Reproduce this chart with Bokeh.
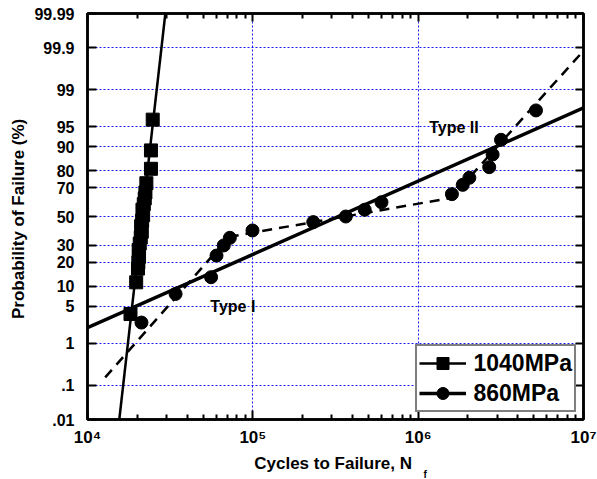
from statistics import NormalDist
from bokeh.plotting import figure
from bokeh.models import (LogAxis, LinearAxis, FixedTicker, Legend, LegendItem, Label,
                          Range1d, CustomJSTickFormatter, Title)
from bokeh.embed import file_html
from bokeh.resources import INLINE

# ---------------- data ----------------
n1040 = [18200, 19700, 20200, 20300, 20500, 20400, 20700, 21000, 21300, 21100,
         21400, 21700, 21500, 21900, 22200, 22400, 22700, 24200, 24200, 24800]
p1040 = [3.7, 11.4, 17, 20, 23, 27, 31, 35, 39, 43,
         47, 51, 55, 59, 63, 67, 72.9, 80.9, 88.7, 96.2]

n860 = [21200, 34100, 55900, 60300, 66700, 72600, 99500, 232000, 365000, 475000,
        600000, 1600000, 1860000, 2040000, 2690000, 2820000, 3170000, 5160000]
p860 = [2.6, 7.8, 13.3, 23.7, 29.8, 34.8, 39.9, 45.9, 50.0, 54.9,
        60.3, 65.9, 71.9, 76.1, 81.7, 87.2, 92.0, 97.4]

fit1040_n = [15570, 29570]
fit1040_p = [0.01, 99.99]
fit860_n = [1e4, 1e7]
fit860_p = [2.08, 97.67]
bilin860_n = [12800, 72000, 1580000, 10000000]
bilin860_p = [0.16, 35.5, 63.3, 99.88]

y_tick_pct = [0.01, 0.1, 1, 5, 10, 20, 30, 50, 70, 80, 90, 95, 99, 99.9, 99.99]
y_tick_labels = [".01", ".1", "1", "5", "10", "20", "30", "50", "70", "80", "90", "95", "99", "99.9", "99.99"]
x_tick_vals = [1e4, 1e5, 1e6, 1e7]
x_tick_labels = ["10\u2074", "10\u2075", "10\u2076", "10\u2077"]

nd = NormalDist()
def z(ps):
    return [nd.inv_cdf(v / 100.0) for v in ps]

FONT = "Liberation Sans"
y_ticks = z(y_tick_pct)
zlo, zhi = y_ticks[0], y_ticks[-1]

p = figure(width=597, height=479, x_axis_type="log",
           x_range=Range1d(1e4, 1e7), y_range=Range1d(zlo, zhi),
           output_backend="svg", toolbar_location=None,
           min_border_left=87, min_border_right=14, min_border_top=13, min_border_bottom=60)
p.background_fill_color = "white"
p.border_fill_color = "white"
p.outline_line_color = "black"
p.outline_line_width = 2.5

minor = [m * d for d in (1e4, 1e5, 1e6) for m in range(2, 10)]
xticker = FixedTicker(ticks=x_tick_vals, minor_ticks=minor)
yticker = FixedTicker(ticks=y_ticks, minor_ticks=[])

yfmt = CustomJSTickFormatter(args=dict(tv=y_ticks, tl=y_tick_labels), code="""
let b = 0;
for (let i = 0; i < tv.length; i++) { if (Math.abs(tv[i]-tick) < Math.abs(tv[b]-tick)) b = i; }
return tl[b];
""")
xfmt = CustomJSTickFormatter(args=dict(tv=x_tick_vals, tl=x_tick_labels), code="""
let b = 0;
const lt = Math.log10(tick);
for (let i = 0; i < tv.length; i++) { if (Math.abs(Math.log10(tv[i])-lt) < Math.abs(Math.log10(tv[b])-lt)) b = i; }
return tl[b];
""")
blank = CustomJSTickFormatter(code="return '';")

xa = p.below[0]
xa.ticker = xticker
xa.formatter = xfmt
ya = p.left[0]
ya.ticker = yticker
ya.formatter = yfmt

for ax in (xa, ya):
    ax.axis_line_width = 2.5
    ax.major_tick_in = 9
    ax.major_tick_out = 0
    ax.minor_tick_in = 5
    ax.minor_tick_out = 0
    ax.major_tick_line_width = 2
    ax.minor_tick_line_width = 2
    ax.major_label_text_font = FONT
    ax.major_label_text_font_style = "bold"
    ax.major_label_text_font_size = "16px"
    ax.major_label_text_color = "black"
    ax.axis_label_text_font = FONT
    ax.axis_label_text_font_style = "bold"
    ax.axis_label_text_font_size = "17px"
    ax.axis_label_text_color = "black"

xa.axis_label = "Cycles to Failure,  N"
xa.major_label_text_font_size = "17px"
xa.major_label_standoff = 8
xa.axis_label_standoff = 4
ya.axis_label = "Probability of Failure  (%)"
ya.major_label_standoff = 13
ya.axis_label_standoff = 3

ra = LinearAxis(ticker=yticker, formatter=blank)
ta = LogAxis(ticker=xticker, formatter=blank)
for ax in (ra, ta):
    ax.axis_line_width = 2.5
    ax.major_tick_in = 8
    ax.major_tick_out = 0
    ax.minor_tick_in = 5
    ax.minor_tick_out = 0
    ax.major_tick_line_width = 2
    ax.minor_tick_line_width = 2
    ax.major_label_text_font_size = "0px"
    ax.major_label_standoff = 0
p.add_layout(ra, "right")
p.add_layout(ta, "above")

# subscript "f" of N_f, placed in the panel under the x axis
sub_f = Title(text="f", align="left", offset=336, standoff=-14, vertical_align="top",
              text_font=FONT, text_font_style="bold", text_font_size="10px", text_color="black")
p.add_layout(sub_f, "below")

for g in (p.xgrid[0], p.ygrid[0]):
    g.grid_line_color = "#1a1aff"
    g.grid_line_dash = "2 2"
    g.grid_line_width = 1
p.xgrid[0].ticker = xticker
p.ygrid[0].ticker = yticker

# ---------------- marks ----------------
l1040 = p.line(fit1040_n, z(fit1040_p), line_color="black", line_width=2.5)
l860 = p.line(fit860_n, z(fit860_p), line_color="black", line_width=3.5)
p.line(bilin860_n, z(bilin860_p), line_color="black", line_width=2.5, line_dash="10 7")
s1040 = p.scatter(n1040, z(p1040), marker="square", size=13, color="black")
s860 = p.scatter(n860, z(p860), marker="circle", size=13, color="black")

p.add_layout(Label(x=55300, y=nd.inv_cdf(0.0487), text="Type I", text_font=FONT,
                   text_font_style="bold", text_font_size="16px", text_baseline="middle",
                   text_align="left", text_color="black"))
p.add_layout(Label(x=1167000, y=nd.inv_cdf(0.949), text="Type II", text_font=FONT,
                   text_font_style="bold", text_font_size="16px", text_baseline="middle",
                   text_align="left", text_color="black"))

legend = Legend(items=[LegendItem(label="1040MPa", renderers=[l1040, s1040]),
                       LegendItem(label="860MPa", renderers=[l860, s860])],
                location=(327.5, 7), margin=0, padding=2, spacing=-10,
                glyph_width=47, glyph_height=30, label_height=30, label_standoff=8,
                label_text_font=FONT, label_text_font_style="bold", label_text_font_size="23px",
                label_text_color="black", border_line_color="black", border_line_width=2.5,
                background_fill_color="white", background_fill_alpha=1.0)
p.add_layout(legend, "center")

open("out.html", "w").write(file_html(p, INLINE))
